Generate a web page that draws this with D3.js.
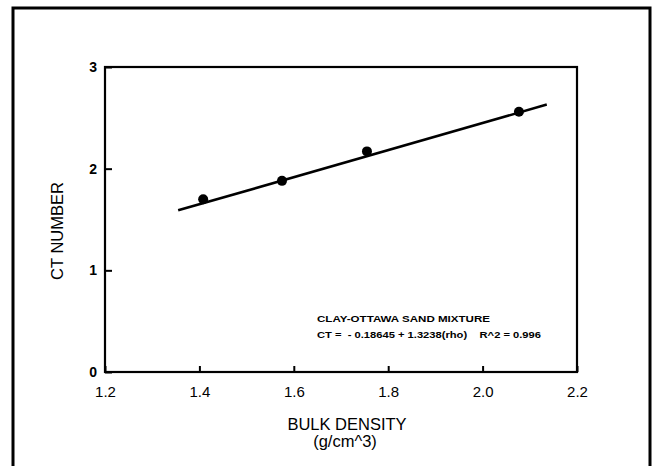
<!DOCTYPE html>
<html><head><meta charset="utf-8">
<script src="https://cdn.jsdelivr.net/npm/d3@7"></script>
<style>body{margin:0;background:#fff}svg{display:block}text{font-family:"Liberation Sans",Arial,Helvetica,sans-serif;fill:#000}</style>
</head><body>
<script>
const density = [1.408, 1.575, 1.755, 2.077];
const ctNumber = [1.70, 1.88, 2.17, 2.56];
const fitX = [1.355, 2.136];
const fitY = [1.59, 2.63];
const xTicks = [1.2, 1.4, 1.6, 1.8, 2.0, 2.2];
const yTicks = [0, 1, 2, 3];
const note1 = "CLAY-OTTAWA SAND MIXTURE";
const note2 = "CT =  - 0.18645 + 1.3238(rho)    R^2 = 0.996";

const W = 652, H = 466;
const m = {left:105, right:577, top:67, bottom:372};
const svg = d3.select("body").append("svg").attr("width", W).attr("height", H);
svg.append("rect").attr("width", W).attr("height", H).attr("fill", "#fff");

// outer border
svg.append("path").attr("d", `M13,${H+5} L13,8 L650,8 L650,${H+5}`)
  .attr("fill","none").attr("stroke","#000").attr("stroke-width",3);

const x = d3.scaleLinear().domain([1.2, 2.2]).range([m.left, m.right]);
const y = d3.scaleLinear().domain([0, 3]).range([m.bottom, m.top]);

// frame
svg.append("rect").attr("x", m.left).attr("y", m.top)
  .attr("width", m.right - m.left).attr("height", m.bottom - m.top)
  .attr("fill","none").attr("stroke","#000").attr("stroke-width",2.2);

const xAxis = svg.append("g").attr("transform", `translate(0,${m.bottom})`)
  .call(d3.axisBottom(x).tickValues(xTicks).tickFormat(d3.format(".1f")).tickSizeInner(-6).tickSizeOuter(0).tickPadding(14));
const yAxis = svg.append("g").attr("transform", `translate(${m.left},0)`)
  .call(d3.axisLeft(y).tickValues(yTicks).tickFormat(d3.format("d")).tickSizeInner(-7).tickSizeOuter(0).tickPadding(8));
[xAxis, yAxis].forEach(g => {
  g.select(".domain").remove();
  g.selectAll(".tick line").attr("stroke","#000").attr("stroke-width",2);
  g.selectAll(".tick text").attr("fill","#000");
});
xAxis.selectAll(".tick text").attr("font-size", 15);
yAxis.selectAll(".tick text").attr("font-size", 14).attr("font-weight","bold");

// fit line
svg.append("line")
  .attr("x1", x(fitX[0])).attr("y1", y(fitY[0]))
  .attr("x2", x(fitX[1])).attr("y2", y(fitY[1]))
  .attr("stroke","#000").attr("stroke-width",2.6);

// points
svg.selectAll("circle.pt").data(density).enter().append("circle")
  .attr("class","pt")
  .attr("cx", d => x(d)).attr("cy", (d,i) => y(ctNumber[i]))
  .attr("r", 5).attr("fill","#000");

// annotation
svg.append("text").attr("x", 317).attr("y", 322).attr("font-size", 9.5).attr("font-weight","bold")
  .attr("textLength", 173).attr("lengthAdjust","spacingAndGlyphs").text(note1);
svg.append("text").attr("x", 317).attr("y", 338).attr("font-size", 9.5).attr("font-weight","bold")
  .attr("textLength", 224).attr("lengthAdjust","spacingAndGlyphs")
  .style("white-space","pre").text(note2);

// axis titles
svg.append("text").attr("x", 347).attr("y", 430).attr("text-anchor","middle").attr("font-size",16.5).text("BULK DENSITY");
svg.append("text").attr("x", 345).attr("y", 447).attr("text-anchor","middle").attr("font-size",16.5).text("(g/cm^3)");
svg.append("text").attr("transform", `translate(63,231) rotate(-90)`)
  .attr("text-anchor","middle").attr("font-size",16.5).text("CT NUMBER");
</script>
</body></html>
